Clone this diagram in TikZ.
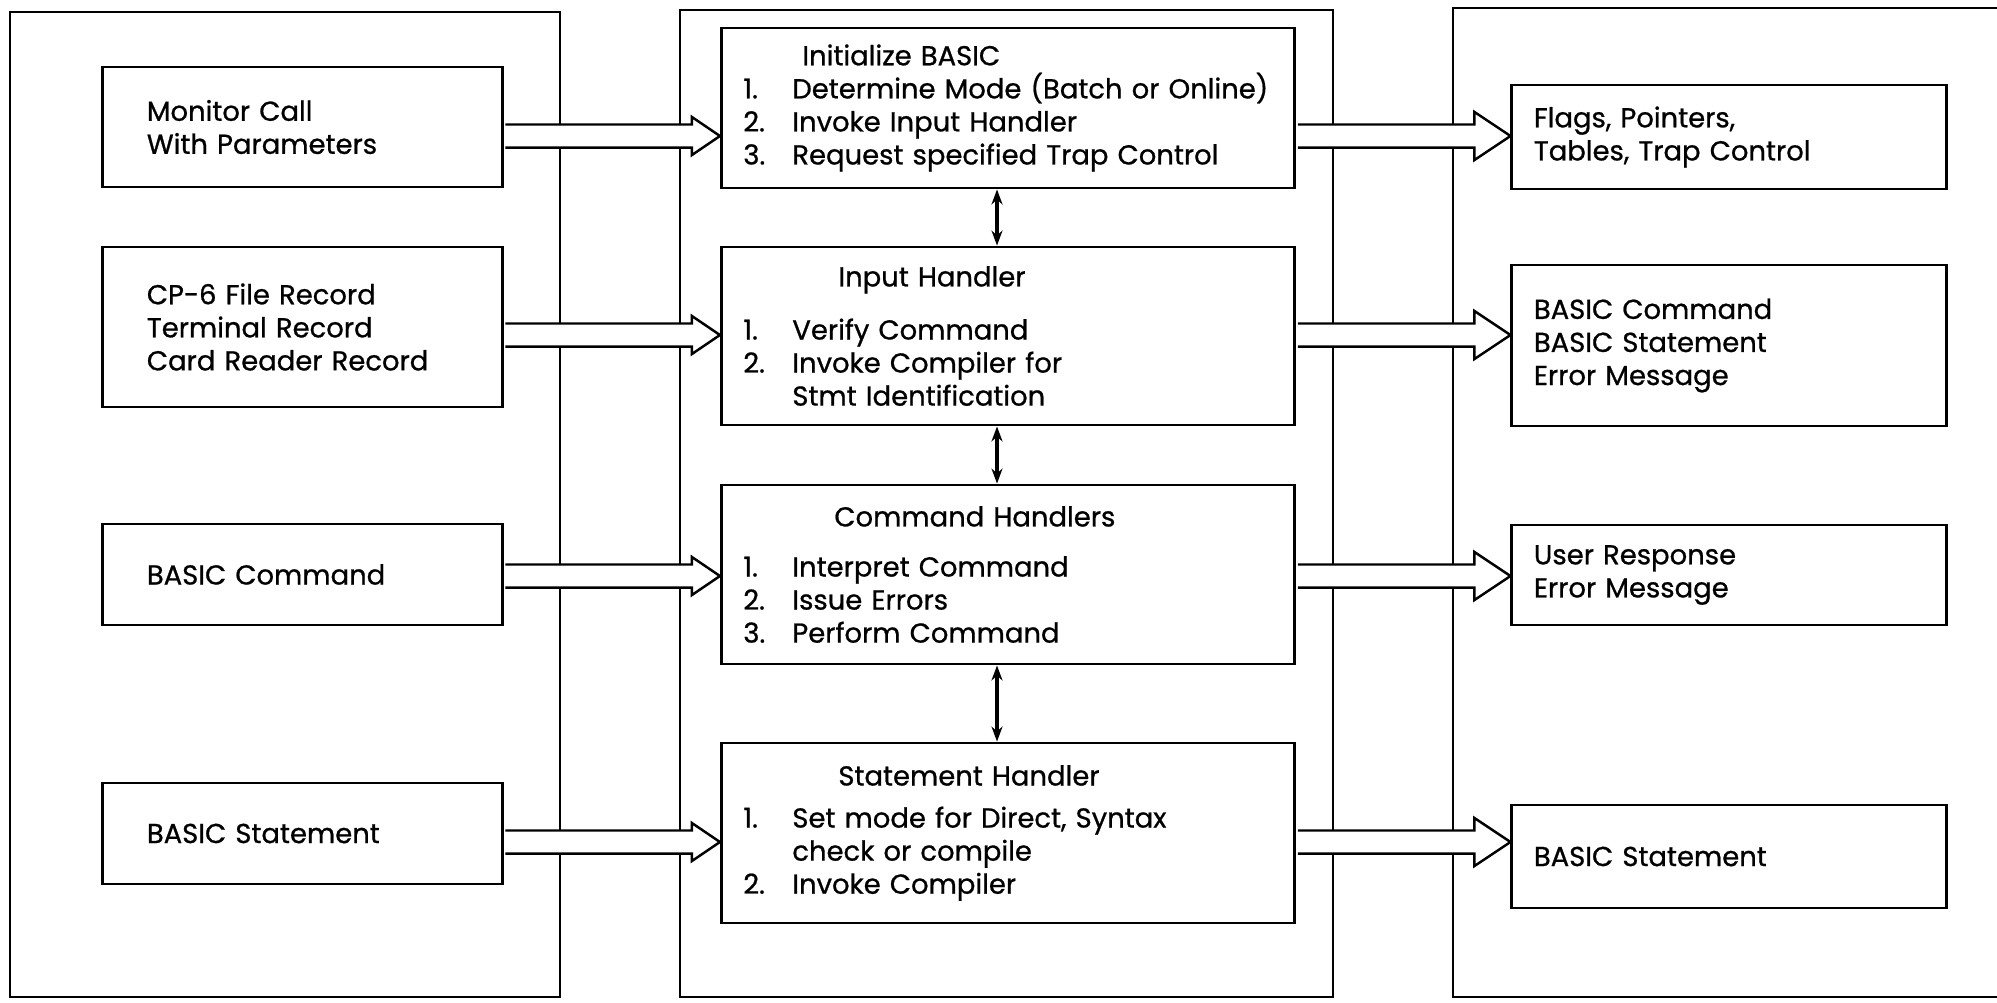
\documentclass[tikz,border=0pt]{standalone}
\usepackage{fontspec}
\setmainfont[FakeBold=0.8]{Poppins}
\usetikzlibrary{arrows.meta,calc,positioning}
\hyphenpenalty=10000

% number column inside the handler boxes
\newcommand{\itm}[1]{\makebox[0.49cm][l]{#1}}
% wide hollow arrow: from, to, head length, head half width
\newcommand{\bigarrow}[4]{%
  \draw[hollow] let \p1=(#1), \p2=(#2) in
    (\x1+0.5pt,\y1+0.115cm) -- (\x2-#3,\y1+0.115cm) -- (\x2-#3,\y1+#4)
    -- (\x2,\y1) -- (\x2-#3,\y1-#4) -- (\x2-#3,\y1-0.115cm)
    -- (\x1+0.5pt,\y1-0.115cm);
}

\begin{document}
\begin{tikzpicture}[
    x=0.01cm, y=-0.01cm,
    font=\fontsize{7.8}{9.4}\selectfont,
    panel/.style={line width=0.8pt},
    box/.style={draw, line width=0.8pt, align=left, inner ysep=0pt},
    inbox/.style={box, minimum width=3.99cm, text width=3.11cm, inner xsep=0.44cm},
    midbox/.style={box, minimum width=5.73cm, text width=5.29cm, inner xsep=0.22cm},
    outbox/.style={box, minimum width=4.34cm, text width=3.90cm, inner xsep=0.22cm},
    hollow/.style={draw, fill=white, line width=0.7pt},
    link/.style={line width=1pt, {Stealth[length=0.15cm,width=0.11cm]}-{Stealth[length=0.15cm,width=0.11cm]}}
]
    \useasboundingbox (0,0) rectangle (1997,1002);

    % Panels
    \draw[panel] (10,12) rectangle (560,997);
    \draw[panel] (680,10) rectangle (1333,997);
    \draw[panel] (1997,8) -- (1453,8) -- (1453,997) -- (1997,997);

    % Rows of the hollow arrows
    \coordinate (r1) at (0,136);
    \coordinate (r2) at (0,335);
    \coordinate (r3) at (0,576);
    \coordinate (r4) at (0,842);
    \coordinate (vx) at (997,0);

    % Inputs
    \node[inbox, minimum height=1.20cm] (mon) at (302.5,127) {Monitor Call\\With Parameters};
    \node[inbox, minimum height=1.60cm] (rec) at (302.5,327) {CP-6 File Record\\Terminal Record\\Card Reader Record};
    \node[inbox, minimum height=1.01cm] (bcmd) at (302.5,574.5) {BASIC Command};
    \node[inbox, minimum height=1.01cm] (bstm) at (302.5,833.5) {BASIC Statement};

    % Processing
    \node[midbox, minimum height=1.60cm] (init) at (1008,108) {%
        \hspace*{0.59cm}Initialize BASIC\\
        \itm{1.}Determine Mode (Batch or Online)\\
        \itm{2.}Invoke Input Handler\\
        \itm{3.}Request specified Trap Control};
    \node[midbox, minimum height=1.78cm] (inph) at (1008,336) {%
        \hspace*{0.95cm}Input Handler\\[0.20cm]
        \itm{1.}Verify Command\\
        \itm{2.}Invoke Compiler for\\
        \hspace*{0.49cm}Stmt Identification};
    \node[midbox, minimum height=1.79cm] (cmdh) at (1008,574.5) {%
        \hspace*{0.91cm}Command Handlers\\[0.17cm]
        \itm{1.}Interpret Command\\
        \itm{2.}Issue Errors\\
        \itm{3.}Perform Command};
    \node[midbox, minimum height=1.80cm] (stmh) at (1008,833) {%
        \hspace*{0.95cm}Statement Handler\\[0.09cm]
        \itm{1.}Set mode for Direct, Syntax\\
        \hspace*{0.49cm}check or compile\\
        \itm{2.}Invoke Compiler};

    % Outputs
    \node[outbox, minimum height=1.04cm] (flags) at (1729,137) {Flags, Pointers,\\Tables, Trap Control};
    \node[outbox, minimum height=1.61cm] (outc) at (1729,345.5) {BASIC Command\\BASIC Statement\\Error Message};
    \node[outbox, minimum height=1.00cm] (resp) at (1729,575) {User Response\\Error Message};
    \node[outbox, minimum height=1.03cm] (outs) at (1729,856.5) {BASIC Statement};

    % Flow into the handlers
    \bigarrow{mon.east |- r1}{init.west |- r1}{0.28cm}{0.19cm}
    \bigarrow{rec.east |- r2}{inph.west |- r2}{0.28cm}{0.19cm}
    \bigarrow{bcmd.east |- r3}{cmdh.west |- r3}{0.28cm}{0.19cm}
    \bigarrow{bstm.east |- r4}{stmh.west |- r4}{0.28cm}{0.19cm}

    % Flow out of the handlers
    \bigarrow{init.east |- r1}{flags.west |- r1}{0.36cm}{0.24cm}
    \bigarrow{inph.east |- r2}{outc.west |- r2}{0.36cm}{0.24cm}
    \bigarrow{cmdh.east |- r3}{resp.west |- r3}{0.36cm}{0.24cm}
    \bigarrow{stmh.east |- r4}{outs.west |- r4}{0.36cm}{0.24cm}

    % Handler links
    \draw[link] (init.south -| vx) -- (inph.north -| vx);
    \draw[link] (inph.south -| vx) -- (cmdh.north -| vx);
    \draw[link] (cmdh.south -| vx) -- (stmh.north -| vx);
\end{tikzpicture}
\end{document}
